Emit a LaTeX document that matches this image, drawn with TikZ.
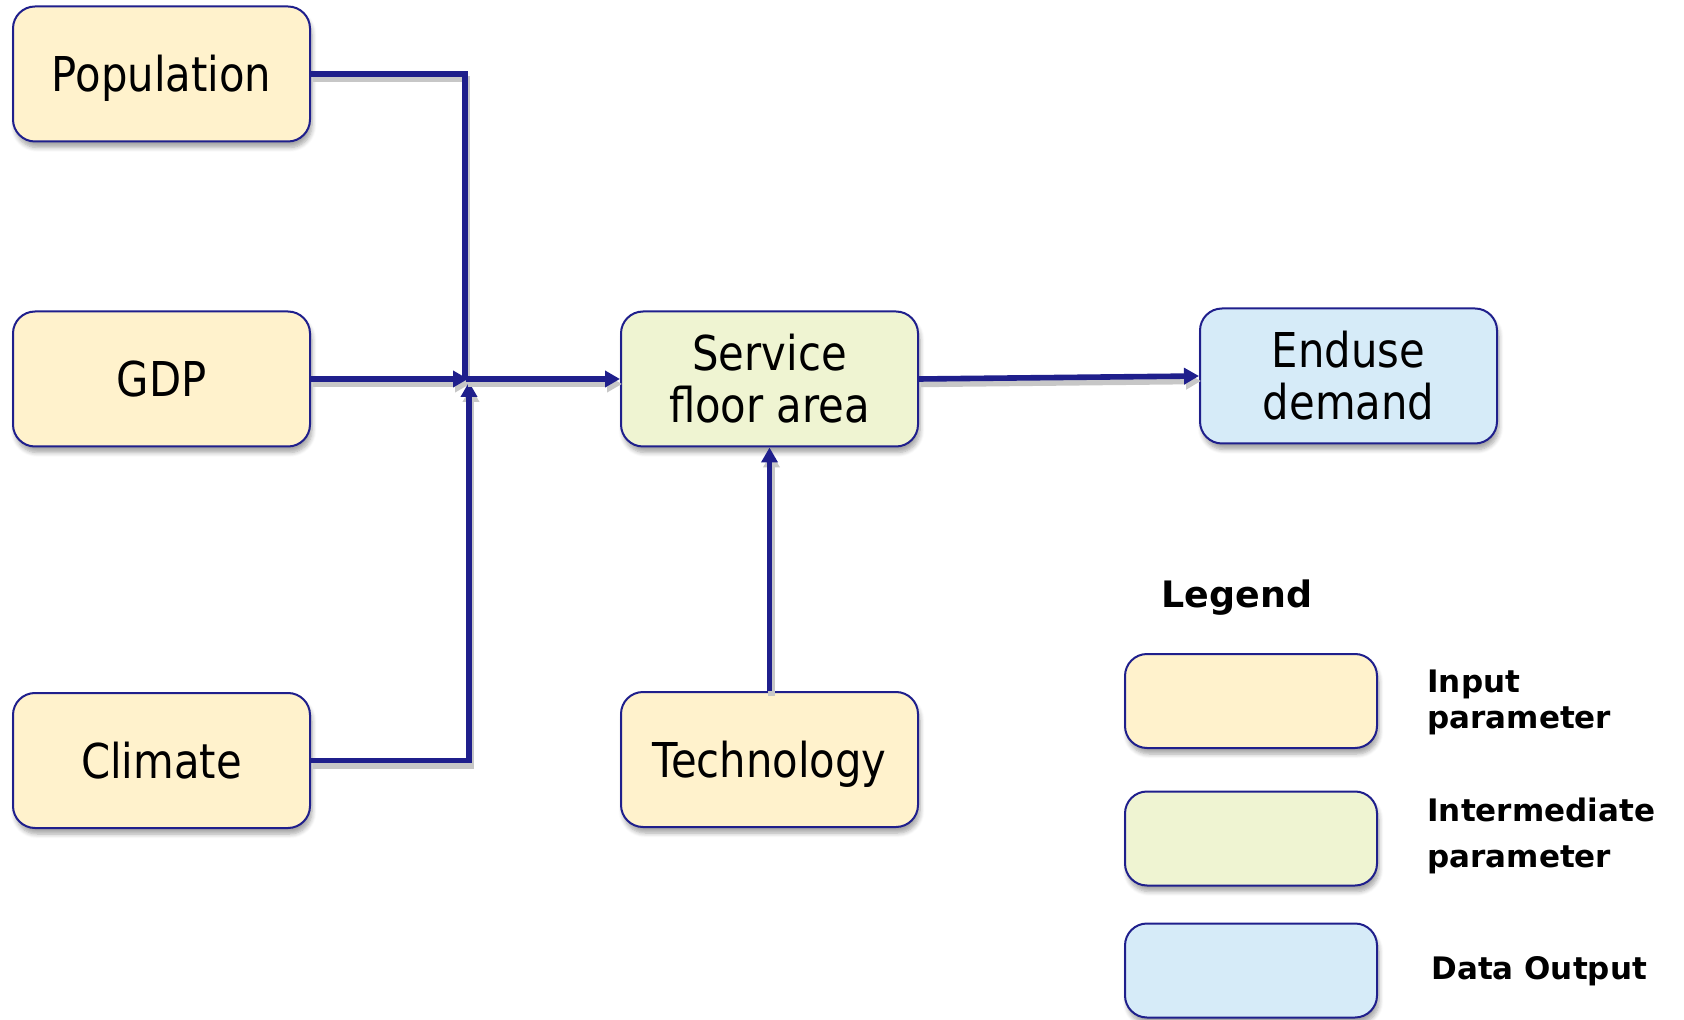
\documentclass[tikz,border=0pt]{standalone}
\usepackage{fontspec}
\setmainfont{DejaVu Sans}
\newfontfamily\boxfont{DejaVu Sans}[FakeStretch=0.87]
\usetikzlibrary{arrows.meta,shadows.blur}
\definecolor{navy}{HTML}{1F1F8C}
\definecolor{inputc}{HTML}{FFF2CC}
\definecolor{interc}{HTML}{EFF4D2}
\definecolor{outc}{HTML}{D6EBF8}
\tikzset{
  box/.style={draw=navy, line width=1pt, rounded corners=11pt, minimum width=148.5pt,
    minimum height=67.5pt, inner sep=0pt, align=center,
    font=\boxfont\fontsize{24pt}{26pt}\selectfont,
    blur shadow={shadow xshift=1pt, shadow yshift=-3pt, shadow blur steps=6, shadow opacity=35}},
  single/.style={text height=17.5pt, text depth=0pt},
  inbox/.style={box, fill=inputc},
  midbox/.style={box, fill=interc},
  outbox/.style={box, fill=outc},
  legbox/.style={box, minimum width=126pt, minimum height=47pt},
  legtext/.style={anchor=west, align=left, inner sep=0pt, font=\bfseries\fontsize{15.5pt}{19pt}\selectfont},
  conn/.style={draw=navy, line width=2.8pt,
    preaction={draw=black!22, line width=3.2pt, transform canvas={shift={(1pt,-2.5pt)}}}},
  arr/.style={conn, -{Triangle[length=7.5pt,width=8pt]}},
}
\begin{document}
\begin{tikzpicture}[x=0.5pt,y=-0.5pt]
\useasboundingbox (0,0) rectangle (1684,1020);
\node[inbox, single] (pop) at (161.5,74) {Population};
\node[inbox, single] (gdp) at (161.5,379) {GDP};
\node[inbox, single] (clim) at (161.5,760.5) {Climate};
\node[midbox] (serv) at (769.5,379) {Service\\floor area};
\node[inbox, single] (tech) at (769.5,759.5) {Technology};
\node[outbox] (end) at (1348.5,376) {Enduse\\demand};

\coordinate (jp) at (465,379);
\coordinate (jg) at (468,379);
\coordinate (jc) at (469,382);
\coordinate (js) at (466,379);

\draw[conn] (pop.east) -| (jp);
\draw[arr] (gdp.east) -- (jg);
\draw[arr] (clim.east) -| (jc);
\draw[arr] (js) -- (serv.west);
\draw[arr] (tech.north) -- (serv.south);
\draw[arr] (serv.east) -- (end.west);

\node[font=\bfseries\fontsize{18.2pt}{22pt}\selectfont, inner sep=0pt] (legt) at (1237,598) {Legend};
\node[legbox, fill=inputc] (l1) at (1251,701) {};
\node[legbox, fill=interc] (l2) at (1251,838.5) {};
\node[legbox, fill=outc] (l3) at (1251,970.5) {};
\node[legtext] (t1) at (1427,702) {Input\\[-1pt]parameter};
\node[legtext] (t2) at (1427,836) {Intermediate\\[4pt]parameter};
\node[legtext] (t3) at (1431,971) {Data Output};
\end{tikzpicture}
\end{document}
